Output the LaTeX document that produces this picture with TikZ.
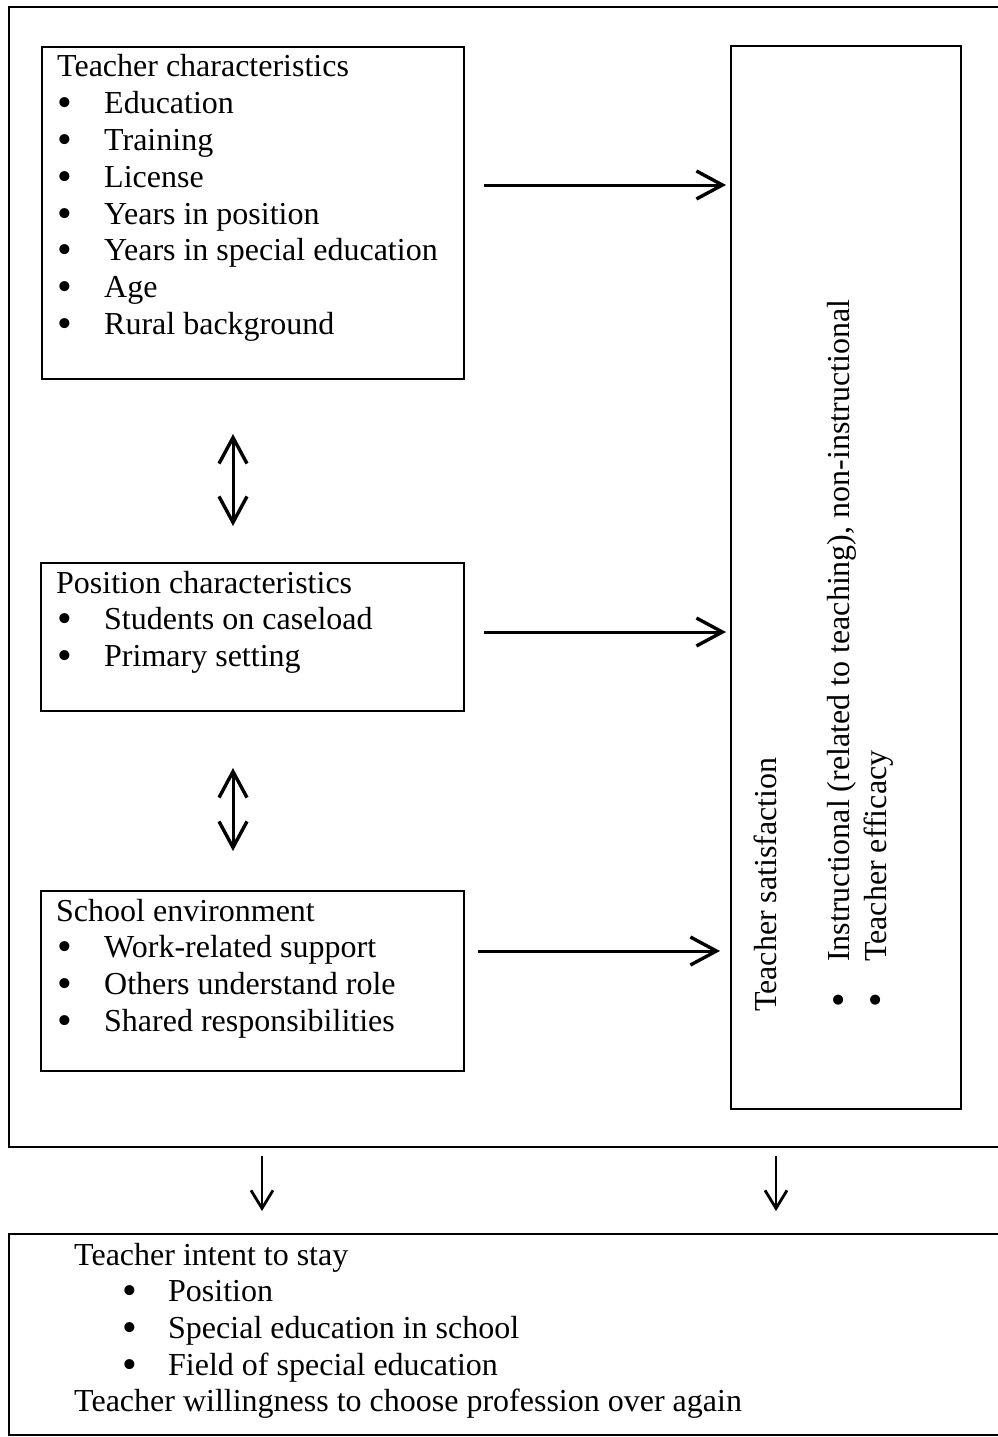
\documentclass[tikz,border=0pt]{standalone}
\usepackage{fontspec}
\setmainfont{Liberation Serif}
\usetikzlibrary{arrows.meta}
\begin{document}
\begin{tikzpicture}[x=1pt,y=-1pt,
  frameline/.style={draw=black,line width=2.2pt},
  box/.style={draw=black,line width=2pt,anchor=north west,inner sep=0pt},
  txt/.style={anchor=base west,inner sep=0pt,font=\fontsize{32}{37}\selectfont},
  bul/.style={anchor=base,inner sep=0pt,font=\fontsize{42}{42}\selectfont},
  harr/.style={line width=3pt,-{Straight Barb[length=26pt,width=28pt,line width=3.4pt]}},
  darr/.style={line width=3pt,{Straight Barb[length=26pt,width=28pt,line width=3.4pt]}-{Straight Barb[length=26pt,width=28pt,line width=3.4pt]}},
  varr/.style={line width=2.6pt,-{Straight Barb[length=18pt,width=22pt,line width=2.8pt]}}
]
\useasboundingbox (0,0) rectangle (997,1437);

% outer frame (right side runs off the page)
\draw[frameline] (1005,7) -- (9,7) -- (9,1147) -- (1005,1147);
% bottom frame
\draw[frameline] (1005,1234) -- (9,1234) -- (9,1435) -- (1005,1435);

% boxes
\node[box,minimum width=422pt,minimum height=332pt] (b1) at (41,46) {};
\node[box,minimum width=423pt,minimum height=148pt] (b2) at (40,562) {};
\node[box,minimum width=423pt,minimum height=180pt] (b3) at (40,890) {};
\node[box,minimum width=230pt,minimum height=1063pt] (b4) at (730,45) {};

% box 1 text
\node[txt] (t1) at (57,77) {Teacher characteristics};
\node[bul] (t1b1) at (65,116) {\smash{•}}; \node[txt] (t1i1) at (104,113) {Education};
\node[bul] (t1b2) at (65,153) {\smash{•}}; \node[txt] (t1i2) at (104,150) {Training};
\node[bul] (t1b3) at (65,190) {\smash{•}}; \node[txt] (t1i3) at (104,187) {License};
\node[bul] (t1b4) at (65,227) {\smash{•}}; \node[txt] (t1i4) at (104,224) {Years in position};
\node[bul] (t1b5) at (65,263) {\smash{•}}; \node[txt] (t1i5) at (104,260) {Years in special education};
\node[bul] (t1b6) at (65,300) {\smash{•}}; \node[txt] (t1i6) at (104,297) {Age};
\node[bul] (t1b7) at (65,337) {\smash{•}}; \node[txt] (t1i7) at (104,334) {Rural background};

% box 2 text
\node[txt] (t2) at (56,593) {Position characteristics};
\node[bul] (t2b1) at (65,632) {\smash{•}}; \node[txt] (t2i1) at (104,629) {Students on caseload};
\node[bul] (t2b2) at (65,669) {\smash{•}}; \node[txt] (t2i2) at (104,666) {Primary setting};

% box 3 text
\node[txt] (t3) at (56,921) {School environment};
\node[bul] (t3b1) at (65,960) {\smash{•}}; \node[txt] (t3i1) at (104,957) {Work-related support};
\node[bul] (t3b2) at (65,997) {\smash{•}}; \node[txt] (t3i2) at (104,994) {Others understand role};
\node[bul] (t3b3) at (65,1034) {\smash{•}}; \node[txt] (t3i3) at (104,1031) {Shared responsibilities};

% right box rotated text
\node[txt,rotate=90] (t4) at (776,1012) {Teacher satisfaction};
\node[bul,rotate=90] (t4b1) at (852,1000) {\smash{•}};
\node[txt,rotate=90] (t4i1) at (849,962) {Instructional (related to teaching), non-instructional};
\node[bul,rotate=90] (t4b2) at (889,1000) {\smash{•}};
\node[txt,rotate=90] (t4i2) at (886,962) {Teacher efficacy};

% bottom text
\node[txt] (t5) at (74,1265) {Teacher intent to stay};
\node[bul] (t5b1) at (130,1304) {\smash{•}}; \node[txt] (t5i1) at (168,1301) {Position};
\node[bul] (t5b2) at (130,1341) {\smash{•}}; \node[txt] (t5i2) at (168,1338) {Special education in school};
\node[bul] (t5b3) at (130,1378) {\smash{•}}; \node[txt] (t5i3) at (168,1375) {Field of special education};
\node[txt] (t6) at (74,1411) {Teacher willingness to choose profession over again};

% arrow end points
\coordinate (a1s) at (484,185); \coordinate (a1e) at (726,185);
\coordinate (a2s) at (484,632); \coordinate (a2e) at (726,632);
\coordinate (a3s) at (478,951); \coordinate (a3e) at (720,951);
\coordinate (d1s) at (233,434); \coordinate (d1e) at (233,526);
\coordinate (d2s) at (233,768); \coordinate (d2e) at (233,851);
\coordinate (v1s) at (262,1156); \coordinate (v1e) at (262,1211);
\coordinate (v2s) at (776,1156); \coordinate (v2e) at (776,1211);

\draw[harr] (a1s) -- (a1e);
\draw[harr] (a2s) -- (a2e);
\draw[harr] (a3s) -- (a3e);
\draw[darr] (d1s) -- (d1e);
\draw[darr] (d2s) -- (d2e);
\draw[varr] (v1s) -- (v1e);
\draw[varr] (v2s) -- (v2e);
\end{tikzpicture}
\end{document}
